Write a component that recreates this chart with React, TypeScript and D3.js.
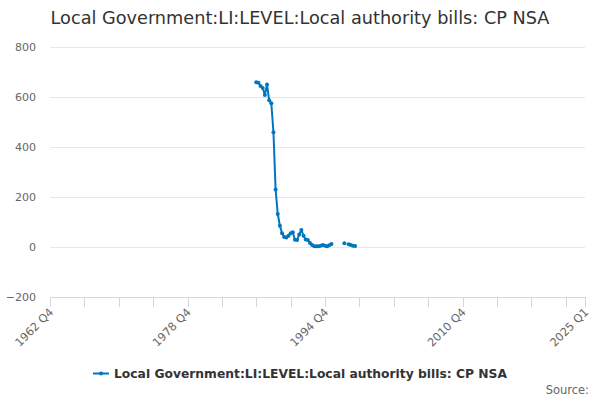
import { useEffect, useRef } from 'react'
import * as d3 from 'd3'

// quarter index 0 = 1962 Q4, last index 249 = 2025 Q1
const firstQuarter = 96 // 1986 Q4
const values: (number | null)[] = [
  659, 657, 644, 636, 608, 650, 587, 575, 459, 230,
  132, 85, 55, 40, 38, 45, 55, 59, 29, 28,
  50, 68, 45, 30, 28, 16, 8, 3, 3, 3,
  5, 8, 5, 3, 7, 12,
  null, null, null, null, null,
  15, null, 11, 8, 5, 4,
]
const yTicks = [-200, 0, 200, 400, 600, 800]
const xLabels = [
  { i: 0, label: '1962 Q4' },
  { i: 64, label: '1978 Q4' },
  { i: 128, label: '1994 Q4' },
  { i: 192, label: '2010 Q4' },
  { i: 249, label: '2025 Q1' },
]
const seriesName = 'Local Government:LI:LEVEL:Local authority bills: CP NSA'

export default function App() {
  const svgRef = useRef<SVGSVGElement>(null)

  useEffect(() => {
    if (!svgRef.current) return
    const width = 600
    const height = 400
    const left = 50
    const right = 585
    const top = 47
    const bottom = 297
    const color = '#0076c0'
    const font = '"DejaVu Sans", sans-serif'

    const svg = d3.select(svgRef.current)
    svg.selectAll('*').remove()

    const x = d3.scaleLinear().domain([0, 249]).range([left, right])
    const y = d3.scaleLinear().domain([-200, 800]).range([bottom, top])

    svg.append('rect').attr('width', width).attr('height', height).attr('fill', '#fff')

    // title
    svg.append('text')
      .attr('x', width / 2).attr('y', 24)
      .attr('text-anchor', 'middle')
      .style('font', `17.7px ${font}`)
      .attr('fill', '#333')
      .text(seriesName)

    // grid + y labels
    svg.append('g').selectAll('line')
      .data(yTicks.filter(t => t !== -200))
      .join('line')
      .attr('x1', left).attr('x2', right)
      .attr('y1', d => y(d) + 0.5).attr('y2', d => y(d) + 0.5)
      .attr('stroke', '#e6e6e6')

    svg.append('g').selectAll('text')
      .data(yTicks)
      .join('text')
      .attr('x', 36).attr('y', d => y(d) + 4)
      .attr('text-anchor', 'end')
      .style('font', `11px ${font}`)
      .attr('fill', '#666')
      .text(d => d3.format('d')(d))

    // x axis
    const axis = svg.append('g')
    axis.append('line')
      .attr('x1', left).attr('x2', right)
      .attr('y1', bottom + 0.5).attr('y2', bottom + 0.5)
      .attr('stroke', '#ccd6eb')
    const tickIdx = d3.range(0, 249, 16).concat([249])
    axis.selectAll('line.tick')
      .data(tickIdx)
      .join('line')
      .attr('class', 'tick')
      .attr('x1', d => Math.round(x(d)) + 0.5).attr('x2', d => Math.round(x(d)) + 0.5)
      .attr('y1', bottom).attr('y2', bottom + 10)
      .attr('stroke', '#ccd6eb')
    axis.selectAll('text')
      .data(xLabels)
      .join('text')
      .attr('transform', d => `translate(${x(d.i) + 4},${bottom + 16}) rotate(-45)`)
      .attr('text-anchor', 'end')
      .style('font', `11.3px ${font}`)
      .attr('fill', '#666')
      .text(d => d.label)

    // series
    const pts = values.map((v, k) => ({ i: firstQuarter + k, v }))
    const line = d3.line<{ i: number; v: number | null }>()
      .defined(d => d.v !== null)
      .x(d => x(d.i))
      .y(d => y(d.v as number))
    svg.append('path')
      .datum(pts)
      .attr('d', line)
      .attr('fill', 'none')
      .attr('stroke', color)
      .attr('stroke-width', 2)
      .attr('stroke-linejoin', 'round')
    svg.append('g').selectAll('circle')
      .data(pts.filter(d => d.v !== null))
      .join('circle')
      .attr('cx', d => x(d.i)).attr('cy', d => y(d.v as number))
      .attr('r', 2)
      .attr('fill', color)

    // legend
    const legend = svg.append('g')
    const legendText = legend.append('text')
      .attr('x', 114).attr('y', 378)
      .style('font', `bold 12.3px ${font}`)
      .attr('fill', '#333')
      .text(seriesName)
    const tw = (legendText.node() as SVGTextElement).getComputedTextLength()
    const lx = (width - (tw + 21)) / 2
    legendText.attr('x', lx + 21)
    legend.append('line')
      .attr('x1', lx).attr('x2', lx + 16)
      .attr('y1', 373.5).attr('y2', 373.5)
      .attr('stroke', color).attr('stroke-width', 2)
    legend.append('circle')
      .attr('cx', lx + 8).attr('cy', 373.5).attr('r', 2)
      .attr('fill', color)

    // source
    svg.append('text')
      .attr('x', 589).attr('y', 394)
      .attr('text-anchor', 'end')
      .style('font', `11.5px ${font}`)
      .attr('fill', '#666')
      .text('Source:')
  }, [])

  return <svg ref={svgRef} width={600} height={400} style={{ display: 'block', position: 'absolute', left: 0, top: 0 }} />
}
